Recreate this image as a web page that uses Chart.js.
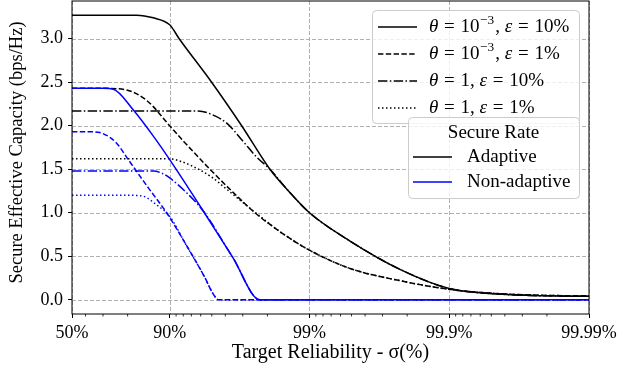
<!DOCTYPE html>
<html lang="en">
<head>
<meta charset="UTF-8">
<title>Secure Effective Capacity</title>
<script src="https://cdn.jsdelivr.net/npm/chart.js"></script>
<style>
    body { margin: 0; background: #ffffff; }
    #wrap { width: 640px; height: 369px; }
</style>
</head>
<body>
<div id="wrap"><canvas id="chart" width="640" height="369"></canvas></div>
<script>
// x axis values are -log10(1 - sigma): 50% -> 0.301, 90% -> 1, 99% -> 2 ...
const reliabilityTicks = [0.30103, 1, 2, 3, 4];
const reliabilityLabels = ['50%', '90%', '99%', '99.9%', '99.99%'];
const capacityTicks = [0, 0.5, 1, 1.5, 2, 2.5, 3];

// adaptive secure rate (black)
// theta = 1e-3, eps = 10%
const adaptive1X = [0.301, 0.764, 0.82, 0.883, 1.0, 1.068, 1.30, 1.515, 1.717, 1.85, 2.0, 2.29, 2.647, 3.0, 3.36, 3.7, 4.0];
const adaptive1Y = [3.27, 3.27, 3.262, 3.24, 3.16, 3.0, 2.5, 2.0, 1.5, 1.25, 1.0, 0.675, 0.35, 0.13, 0.065, 0.045, 0.04];
// theta = 1e-3, eps = 1%
const adaptive2X = [0.301, 0.523, 0.692, 0.836, 1.0, 1.1, 1.288, 1.45, 1.61, 1.8, 2.0, 2.29, 2.647, 3.0, 3.36, 3.7, 4.0];
const adaptive2Y = [2.43, 2.43, 2.41, 2.29, 2.0, 1.82, 1.5, 1.24, 1.0, 0.77, 0.57, 0.36, 0.22, 0.12, 0.07, 0.05, 0.045];
// theta = 1, eps = 10%
const adaptive3X = [0.301, 1.204, 1.30, 1.408, 1.52, 1.622, 1.717, 1.85, 2.0, 2.29, 2.647, 3.0, 3.36, 3.7, 4.0];
const adaptive3Y = [2.17, 2.17, 2.13, 2.03, 1.83, 1.64, 1.5, 1.25, 1.0, 0.675, 0.35, 0.13, 0.065, 0.045, 0.04];
// theta = 1, eps = 1%
const adaptive4X = [0.301, 1.0, 1.08, 1.169, 1.30, 1.408, 1.53, 1.646, 1.8, 2.0, 2.29, 2.647, 3.0, 3.36, 3.7, 4.0];
const adaptive4Y = [1.62, 1.62, 1.59, 1.53, 1.41, 1.27, 1.11, 0.96, 0.77, 0.57, 0.36, 0.22, 0.12, 0.07, 0.05, 0.045];

// non-adaptive secure rate (blue)
const nonAdaptive1X = [0.301, 0.523, 0.597, 0.74, 0.883, 1.0, 1.24, 1.45, 1.646, 4.0];
const nonAdaptive1Y = [2.43, 2.43, 2.42, 2.18, 1.88, 1.61, 1.02, 0.49, 0, 0];
const nonAdaptive2X = [0.301, 0.45, 0.523, 0.62, 0.704, 0.85, 0.978, 1.1, 1.25, 1.31, 1.35, 4.0];
const nonAdaptive2Y = [1.93, 1.93, 1.91, 1.80, 1.61, 1.28, 1.0, 0.68, 0.26, 0.07, 0, 0];
const nonAdaptive3X = [0.301, 0.883, 0.95, 1.0, 1.121, 1.24, 1.45, 1.646, 4.0];
const nonAdaptive3Y = [1.48, 1.48, 1.45, 1.40, 1.23, 1.02, 0.49, 0, 0];
const nonAdaptive4X = [0.301, 0.728, 0.811, 0.907, 1.0, 1.06, 1.1, 1.25, 1.31, 1.35, 4.0];
const nonAdaptive4Y = [1.20, 1.20, 1.19, 1.09, 0.96, 0.80, 0.68, 0.26, 0.07, 0, 0];

// legend texts
const paramLabels = [
    [['θ', 'i'], [' = 10', 'n'], ['−3', 's'], [', ', 'n'], ['ε', 'i'], [' = 10%', 'n']],
    [['θ', 'i'], [' = 10', 'n'], ['−3', 's'], [', ', 'n'], ['ε', 'i'], [' = 1%', 'n']],
    [['θ', 'i'], [' = 1, ', 'n'], ['ε', 'i'], [' = 10%', 'n']],
    [['θ', 'i'], [' = 1, ', 'n'], ['ε', 'i'], [' = 1%', 'n']]
];
const rateTitle = 'Secure Rate';
const rateLabels = ['Adaptive', 'Non-adaptive'];
const yTitle = 'Secure Effective Capacity (bps/Hz)';

const SERIF = "'Liberation Serif', 'DejaVu Serif', serif";
const lw = 1.5;
const dashStyles = [[], [5.4, 2.4], [9.4, 2.4, 1.5, 2.4], [1.5, 2.5]];

function pts(xs, ys) {
    return xs.map((x, i) => ({ x: x, y: ys[i] }));
}

function series(xs, ys, color, style) {
    return {
        data: pts(xs, ys),
        borderColor: color,
        borderWidth: lw,
        borderDash: dashStyles[style],
        pointRadius: 0,
        fill: false,
        cubicInterpolationMode: 'monotone'
    };
}

// draws "theta = 10^-3, eps = 10%" piece by piece
function drawLabel(ctx, x, y, parts, size) {
    let cx = x;
    ctx.textBaseline = 'middle';
    ctx.textAlign = 'left';
    parts.forEach(([txt, kind]) => {
        if (kind === 's') {
            ctx.font = (size * 0.7) + 'px ' + SERIF;
            ctx.fillText(txt, cx + 0.5, y - size * 0.36);
            cx += ctx.measureText(txt).width + 1.5;
            return;
        }
        ctx.font = (kind === 'i' ? 'italic ' : '') + size + 'px ' + SERIF;
        const bits = txt.split('=');
        bits.forEach((b, j) => {
            if (j > 0) {
                cx += 1;
                ctx.fillText('=', cx, y);
                cx += ctx.measureText('=').width + 1;
            }
            ctx.fillText(b, cx, y);
            cx += ctx.measureText(b).width;
        });
    });
}

function sample(ctx, x0, x1, y, color, style) {
    ctx.save();
    ctx.strokeStyle = color;
    ctx.lineWidth = lw;
    ctx.setLineDash(dashStyles[style]);
    ctx.beginPath();
    ctx.moveTo(x0, y);
    ctx.lineTo(x1, y);
    ctx.stroke();
    ctx.restore();
}

function box(ctx, x, y, w, h) {
    ctx.save();
    ctx.fillStyle = 'rgba(255,255,255,0.8)';
    ctx.strokeStyle = '#cccccc';
    ctx.lineWidth = 1;
    ctx.beginPath();
    ctx.roundRect(x + 0.5, y + 0.5, w, h, 4);
    ctx.fill();
    ctx.stroke();
    ctx.restore();
}

const framePlugin = {
    id: 'frame',
    beforeDatasetsDraw(chart) {
        // dashed grid like matplotlib's
        const { ctx, chartArea: a, scales: { x, y } } = chart;
        ctx.save();
        ctx.strokeStyle = '#a8a8a8';
        ctx.lineWidth = 0.9;
        ctx.setLineDash([4, 2]);
        x.ticks.forEach(t => {
            const px = Math.round(x.getPixelForValue(t.value)) + 0.5;
            ctx.beginPath();
            ctx.moveTo(px, a.top);
            ctx.lineTo(px, a.bottom);
            ctx.stroke();
        });
        y.ticks.forEach(t => {
            const py = Math.round(y.getPixelForValue(t.value)) + 0.5;
            ctx.beginPath();
            ctx.moveTo(a.left, py);
            ctx.lineTo(a.right, py);
            ctx.stroke();
        });
        ctx.restore();
    },
    afterDatasetsDraw(chart) {
        const { ctx, chartArea: a, scales: { x } } = chart;
        ctx.save();
        // minor ticks of the log reliability axis
        ctx.strokeStyle = '#000';
        ctx.lineWidth = 0.8;
        for (let k = 1; k <= 4; k++) {
            for (let m = 2; m <= 9; m++) {
                const t = -Math.log10(m * Math.pow(10, -k));
                if (t <= x.min + 1e-3 || t >= x.max - 1e-3) continue;
                const px = x.getPixelForValue(t);
                ctx.beginPath();
                ctx.moveTo(px, a.bottom);
                ctx.lineTo(px, a.bottom + 2.5);
                ctx.stroke();
            }
        }
        ctx.lineWidth = 1;
        ctx.strokeRect(a.left, a.top, a.right - a.left, a.bottom - a.top);
        ctx.restore();
    },
    afterDraw(chart) {
        const ctx = chart.ctx;
        ctx.save();
        // y axis title
        ctx.fillStyle = '#000';
        ctx.font = '18.5px ' + SERIF;
        ctx.textAlign = 'center';
        ctx.textBaseline = 'middle';
        ctx.translate(17.5, 152.5);
        ctx.rotate(-Math.PI / 2);
        ctx.fillText(yTitle, 0, 0);
        ctx.setTransform(1, 0, 0, 1, 0, 0);
        // parameter legend
        box(ctx, 372, 10, 207, 113);
        paramLabels.forEach((parts, i) => {
            const y = 27 + i * 27;
            sample(ctx, 378, 417, y, '#000', i);
            ctx.fillStyle = '#000';
            drawLabel(ctx, 429, y, parts, 19);
        });
        // secure rate legend
        box(ctx, 408, 117, 171, 81);
        ctx.fillStyle = '#000';
        ctx.font = '19px ' + SERIF;
        ctx.textAlign = 'center';
        ctx.textBaseline = 'middle';
        ctx.fillText(rateTitle, 493.5, 133);
        ['#000000', '#0000ff'].forEach((c, i) => {
            const y = 157 + i * 25;
            sample(ctx, 413, 452, y, c, 0);
            ctx.fillStyle = '#000';
            ctx.font = '19px ' + SERIF;
            ctx.textAlign = 'left';
            ctx.fillText(rateLabels[i], 467, y);
        });
        ctx.restore();
    }
};

const datasets = [
    series(nonAdaptive1X, nonAdaptive1Y, '#0000ff', 0),
    series(nonAdaptive2X, nonAdaptive2Y, '#0000ff', 1),
    series(nonAdaptive3X, nonAdaptive3Y, '#0000ff', 2),
    series(nonAdaptive4X, nonAdaptive4Y, '#0000ff', 3),
    series(adaptive1X, adaptive1Y, '#000000', 0),
    series(adaptive2X, adaptive2Y, '#000000', 1),
    series(adaptive3X, adaptive3Y, '#000000', 2),
    series(adaptive4X, adaptive4Y, '#000000', 3)
];

new Chart(document.getElementById('chart'), {
    type: 'line',
    data: { datasets: datasets },
    plugins: [framePlugin],
    options: {
        responsive: false,
        devicePixelRatio: 1,
        animation: false,
        layout: { padding: { left: 0, right: 51, top: 1, bottom: 0 } },
        plugins: { legend: { display: false }, tooltip: { enabled: false } },
        scales: {
            x: {
                type: 'linear',
                min: 0.30103,
                max: 4,
                afterBuildTicks: (s) => { s.ticks = reliabilityTicks.map(v => ({ value: v })); },
                afterFit: (s) => {
                    s.height = 55;
                    s.paddingLeft = 0;
                    s.paddingRight = 0;
                },
                ticks: {
                    color: '#000',
                    font: { family: SERIF, size: 18 },
                    padding: 4,
                    maxRotation: 0,
                    callback: (v, i) => reliabilityLabels[i]
                },
                grid: { drawOnChartArea: false, color: '#000', tickLength: 4, tickWidth: 1 },
                border: { display: false },
                title: {
                    display: true,
                    text: 'Target Reliability - σ(%)',
                    color: '#000',
                    font: { family: SERIF, size: 20 },
                    padding: { top: 0, bottom: 4 }
                }
            },
            y: {
                type: 'linear',
                min: -0.1635,
                max: 3.4335,
                afterBuildTicks: (s) => { s.ticks = capacityTicks.map(v => ({ value: v })); },
                afterFit: (s) => {
                    s.width = 72;
                    s.paddingTop = 0;
                    s.paddingBottom = 0;
                },
                ticks: {
                    color: '#000',
                    font: { family: SERIF, size: 18 },
                    padding: 5,
                    callback: (v) => v.toFixed(1)
                },
                grid: { drawOnChartArea: false, color: '#000', tickLength: 4, tickWidth: 1 },
                border: { display: false },
                title: { display: false }
            }
        }
    }
});
</script>
</body>
</html>
